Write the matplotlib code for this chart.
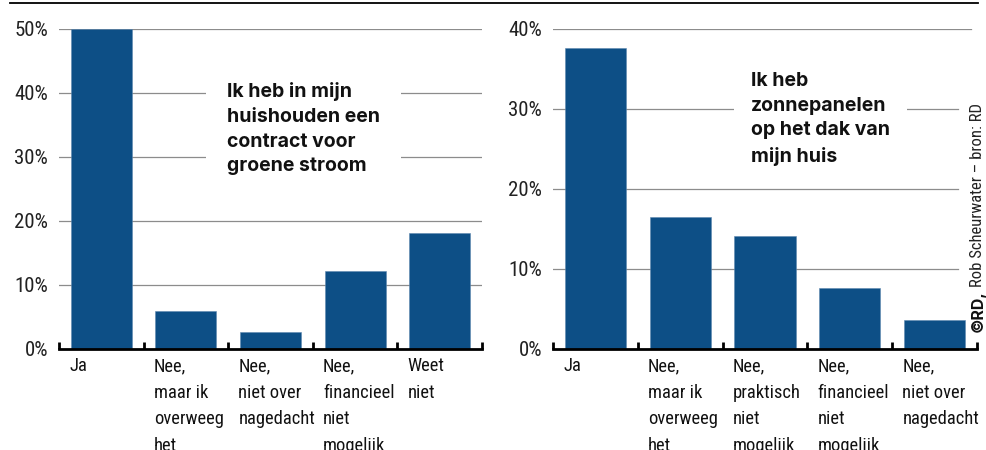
import matplotlib
matplotlib.use("Agg")
import matplotlib.pyplot as plt
from matplotlib import font_manager
from matplotlib.font_manager import FontProperties
from matplotlib.lines import Line2D

# data (percentages)
cats_left = ["Ja", "Nee,\nmaar ik\noverweeg\nhet", "Nee,\nniet over\nnagedacht",
             "Nee,\nfinancieel\nniet\nmogelijk", "Weet\nniet"]
vals_left = [50.0, 5.9, 2.7, 12.2, 18.1]
title_left = "Ik heb in mijn\nhuishouden een\ncontract voor\ngroene stroom"
ticks_left = [0, 10, 20, 30, 40, 50]

cats_right = ["Ja", "Nee,\nmaar ik\noverweeg\nhet", "Nee,\npraktisch\nniet\nmogelijk",
              "Nee,\nfinancieel\nniet\nmogelijk", "Nee,\nniet over\nnagedacht"]
vals_right = [37.6, 16.5, 14.1, 7.6, 3.6]
title_right = "Ik heb\nzonnepanelen\nop het dak van\nmijn huis"
ticks_right = [0, 10, 20, 30, 40]

BLUE = "#0d4f86"
GRID = "#8c8c8c"


def condensed_font():
    # look for a narrow regular face, best first
    prefs = ["Liberation Sans Narrow", "Roboto Condensed", "Open Sans Condensed",
             "Noto Sans", "Noto Sans Display", "Open Sans", "Roboto", "DejaVu Sans"]
    ok = []
    for f in font_manager.fontManager.ttflist:
        st = str(f.stretch).lower()
        nm = f.name
        if f.style != "normal" or f.weight not in (400, "normal", "regular"):
            continue
        if "condensed" in st or "narrow" in nm.lower() or "condensed" in nm.lower():
            if "extra" in st or "ultra" in st:
                continue
            ok.append(f)
    for p in prefs:
        for f in ok:
            if f.name == p:
                return FontProperties(fname=f.fname)
    if ok:
        return FontProperties(fname=ok[0].fname)
    return FontProperties(family="DejaVu Sans", stretch="condensed")


NARROW = condensed_font()
names = set(f.name for f in font_manager.fontManager.ttflist)
BOLDFAM = "Inter" if "Inter" in names else "DejaVu Sans"

fig = plt.figure(figsize=(9.87, 4.5), dpi=100)


def narrow(size):
    fp = NARROW.copy()
    fp.set_size(size)
    return fp


def panel(rect, cats, vals, ticks, title, title_xy, title_pad, grid_end):
    ax = fig.add_axes(rect)
    n = len(cats)
    x = [i + 0.5 for i in range(n)]
    ax.bar(x, vals, width=0.72, color=BLUE, edgecolor="#5f88b0", linewidth=0.4, zorder=3)
    ax.set_xlim(0, n)
    ax.set_ylim(0, ticks[-1])
    for t in ticks[1:]:
        ax.axhline(t, xmin=0, xmax=grid_end(t), color=GRID, lw=0.9, zorder=1)
    for s in ["top", "right", "left"]:
        ax.spines[s].set_visible(False)
    ax.spines["bottom"].set_linewidth(2)
    ax.spines["bottom"].set_zorder(4)
    ax.set_xticks(range(n + 1))
    ax.set_xticklabels([])
    ax.tick_params(axis="x", direction="in", length=5, width=2)
    ax.set_yticks(ticks)
    ax.set_yticklabels(["%d%%" % t for t in ticks], color="#222222", fontproperties=narrow(15))
    ax.tick_params(axis="y", length=0, pad=8)
    for i, c in enumerate(cats):
        ax.annotate(c, xy=(i + 0.12, 0), xycoords=("data", "axes fraction"),
                    xytext=(0, -6), textcoords="offset points", ha="left", va="top",
                    linespacing=1.6, color="#111111", annotation_clip=False,
                    fontproperties=narrow(13.3))
    ax.text(title_xy[0], title_xy[1], title, transform=ax.transAxes, ha="left", va="top",
            fontsize=14, linespacing=1.48, color="#111111", zorder=5,
            family=BOLDFAM, weight="bold",
            bbox=dict(facecolor="white", edgecolor="none", pad=title_pad))
    return ax


panel([59 / 987, 101 / 450, 423 / 987, 320 / 450], cats_left, vals_left, ticks_left,
      title_left, (0.397, 0.834), 15, lambda t: 1.0)
panel([553 / 987, 101 / 450, 424 / 987, 320 / 450], cats_right, vals_right, ticks_right,
      title_right, (0.467, 0.866), 12, lambda t: 0.986 if t == 40 else 0.955)

# top rule
fig.add_artist(Line2D([10 / 987, 978 / 987], [447 / 450, 447 / 450], color="black", lw=1.3))

# credit, rotated
fig.canvas.draw()
r = fig.canvas.get_renderer()
t1 = fig.text(978 / 987, 118 / 450, "©RD,", rotation=90, ha="center", va="bottom",
              fontsize=11.5, color="#111111", family=BOLDFAM, weight="bold")
bb = t1.get_window_extent(r)
fig.text(978 / 987, (bb.y1 + 3) / 450, "Rob Scheurwater – bron: RD", rotation=90,
         ha="center", va="bottom", color="#222222", fontproperties=narrow(12))

fig.savefig("out.png", dpi=100)
